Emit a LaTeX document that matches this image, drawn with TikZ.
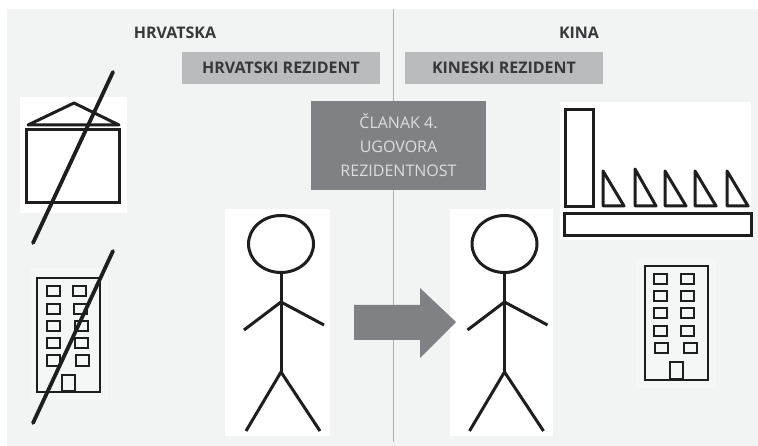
\documentclass[tikz,border=0pt]{standalone}
\usepackage{fontspec}
\setmainfont{Open Sans}
\definecolor{bgc}{HTML}{F2F3F3}
\definecolor{barc}{HTML}{B9BBBD}
\definecolor{boxc}{HTML}{7F8184}
\definecolor{linec}{HTML}{ABADB0}
\definecolor{inkc}{HTML}{1E1E1E}
\definecolor{txtc}{HTML}{38383A}
\definecolor{boxtxt}{HTML}{DCDDDE}
\tikzset{
  ink/.style={draw=inkc,line width=3pt},
  thin ink/.style={draw=inkc,line width=2.4pt},
  slash/.style={draw=inkc,line width=3.8pt,line cap=round},
  panel/.style={fill=white,draw=none},
  head/.style={font=\bfseries\fontsize{16}{18}\selectfont,text=txtc,inner sep=0pt},
  bar/.style={fill=barc,draw=none,minimum width=198pt,minimum height=32pt,inner sep=0pt,text=txtc,font=\bfseries\fontsize{16}{18}\selectfont},
}
\newcommand{\stickman}[1]{%
  \begin{scope}[shift={(#1,0)}]
    \draw[ink] (0,244) ellipse [x radius=32.5,y radius=28.5];
    \draw[ink] (0,273) -- (0,372);
    \draw[ink] (-37,330) -- (0,302) -- (43,325);
    \draw[ink] (-35,431) -- (0,372) -- (39,431);
  \end{scope}}
\newcommand{\win}[3]{\draw[thin ink] (#1+1,#2) rectangle ++(13,#3);}
\begin{document}
\begin{tikzpicture}[x=1pt,y=-1pt]
\useasboundingbox (0,0) rectangle (758,446);
\fill[white] (0,0) rectangle (758,446);
\fill[bgc] (7,9) rectangle (758,446);
\draw[linec,line width=1.8pt] (393.5,9) -- (393.5,442);
% panels
\fill[panel] (20,97) rectangle (127,213);
\fill[panel] (225,209) rectangle (330,436);
\fill[panel] (450,209) rectangle (553,436);
\fill[panel] (560,102) rectangle (751,240);
\fill[white,opacity=.25] (30,268) rectangle (108,400);
\fill[white,opacity=.25] (636,258) rectangle (716,388);
% labels
\node[head] (hr) at (175,33) {HRVATSKA};
\node[head] (ki) at (579,33) {KINA};
\node[bar] (hrr) at (281,68) {HRVATSKI REZIDENT};
\node[bar] (kir) at (504,68) {KINESKI REZIDENT};
\node[fill=boxc,minimum width=175pt,minimum height=89pt,inner sep=0pt,text=boxtxt,align=center,font=\fontsize{16}{24}\selectfont] (art) at (398.5,145.5) {ČLANAK 4.\\UGOVORA\\REZIDENTNOST};
% house
\draw[ink] (26,130) rectangle (119,203);
\draw[ink,line join=round] (28,125) -- (74,103) -- (119,125) -- cycle;
\draw[slash] (113,72) -- (33,243);
% left building
\draw[thin ink] (37,278) rectangle (100,392);
\win{46}{286}{10}\win{46}{304}{10}\win{46}{321}{10}\win{46}{338}{10}\win{46}{355}{11}
\win{72}{286}{10}\win{73}{304}{10}\win{74}{321}{10}\win{74}{338}{10}\win{75}{355}{11}
\draw[thin ink] (62,375) rectangle (75,391);
\draw[slash] (113,251) -- (33,423);
% people
\stickman{281}
\stickman{504.5}
% arrow
\fill[boxc] (354,305) -- (420,305) -- (420,288) -- (456,322) -- (420,358) -- (420,340) -- (354,340) -- cycle;
% factory
\draw[ink] (565,110) rectangle (593,207);
\foreach \x/\t in {603/171,635/169,665/171,695/171,727/171}
  \draw[ink,line join=round] (\x,\t) -- (\x,206) -- (\x+21,206) -- cycle;
\draw[ink] (564.5,213.5) rectangle (751,235.5);
% right building
\draw[thin ink] (645,266) rectangle (708,380);
\win{653}{274}{10}\win{653}{291}{10}\win{653}{308}{10}\win{653}{326}{10}\win{654}{343}{10}
\win{680}{274}{10}\win{680}{291}{10}\win{680}{308}{10}\win{680}{326}{10}\win{683}{343}{10}
\draw[thin ink] (670,362) rectangle (683,379);
\end{tikzpicture}
\end{document}
